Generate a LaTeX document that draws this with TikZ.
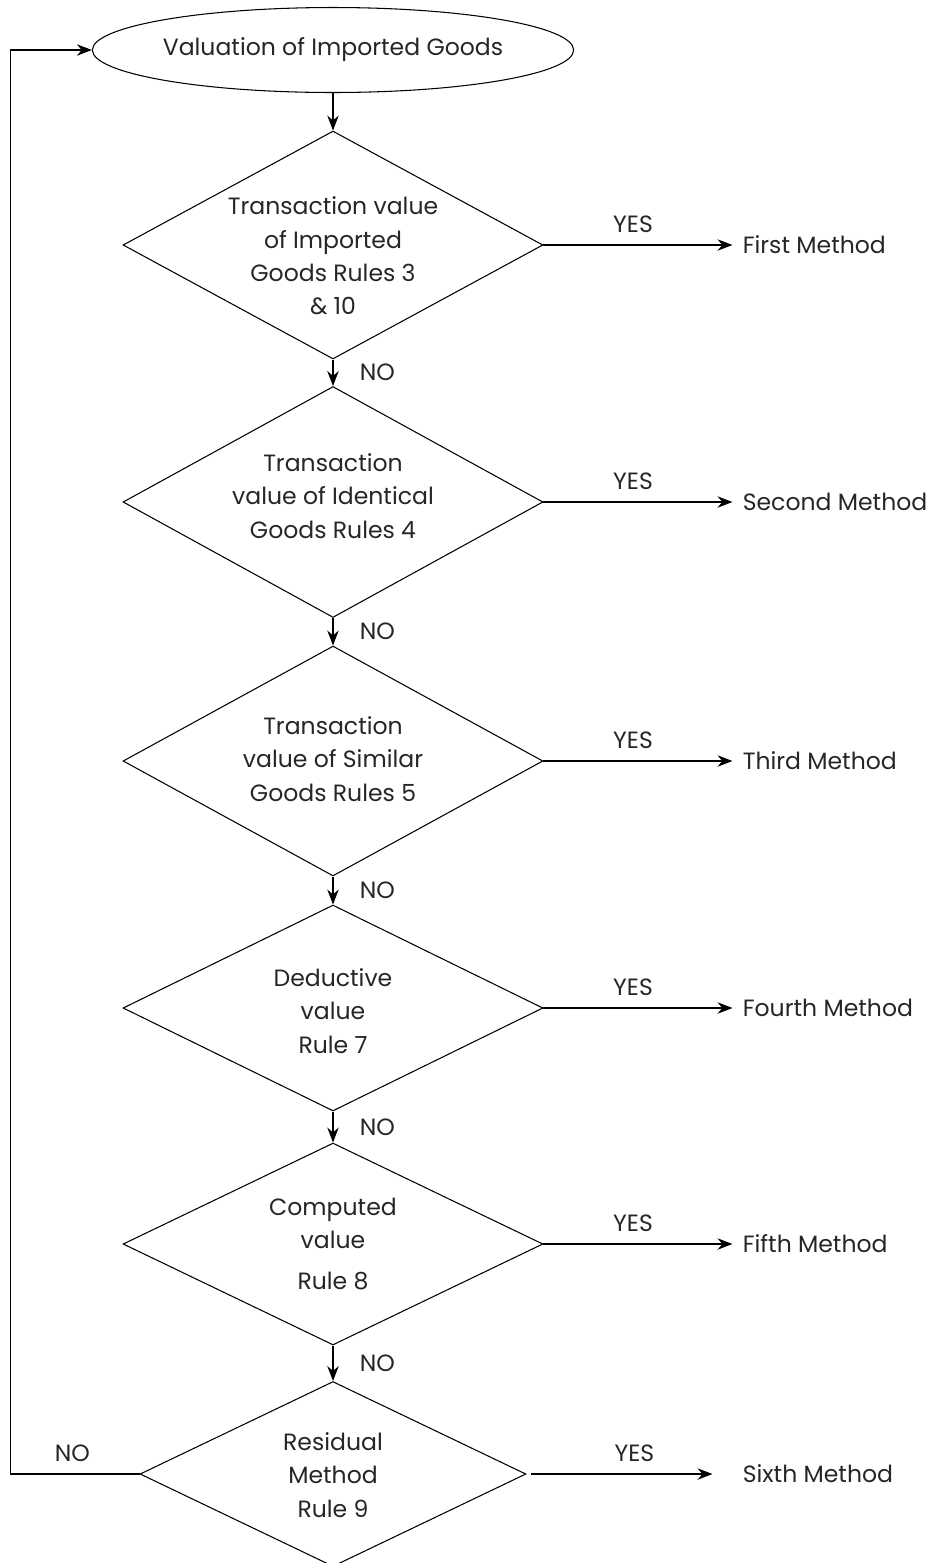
\documentclass[tikz,border=0pt]{standalone}
\usepackage{fontspec}
\setmainfont{Poppins}
\usetikzlibrary{arrows.meta, positioning, shapes}

\begin{document}
\begin{tikzpicture}[
    x=0.02cm, y=-0.02cm,
    font=\fontsize{13.4}{19}\selectfont,
    start/.style={ellipse, draw, line width=0.6pt, minimum width=9.3cm, minimum height=1.7cm, inner sep=0pt, text=black!85},
    decision/.style={diamond, draw, line width=0.6pt, inner sep=0pt, minimum width=8.4cm},
    dtext/.style={align=center, inner sep=0pt, text=black!85},
    method/.style={inner sep=0pt, text=black!85},
    lbl/.style={inner sep=0pt, text=black!85},
    arrow/.style={-{Stealth[length=8.5pt, width=6.5pt]}, line width=0.6pt}]
    \useasboundingbox (0,0) rectangle (938,1563);

    % Start
    \node[start] (start) at (333,50) {Valuation of Imported Goods};

    % Decision chain
    \node[decision, minimum height=4.56cm] (d1) at (333,245) {};
    \node[decision, minimum height=4.62cm] (d2) at (333,502) {};
    \node[decision, minimum height=4.6cm] (d3) at (333,761) {};
    \node[decision, minimum height=4.12cm] (d4) at (333,1008) {};
    \node[decision, minimum height=4.04cm] (d5) at (333,1244) {};
    \node[decision, minimum width=7.72cm, minimum height=3.7cm] (d6) at (333,1474) {};

    \node[dtext] (t1) at (333,256) {Transaction value\\of Imported\\Goods Rules 3\\\& 10};
    \node[dtext] (t2) at (333,496) {Transaction\\value of Identical\\Goods Rules 4};
    \node[dtext] (t3) at (333,759) {Transaction\\value of Similar\\Goods Rules 5};
    \node[dtext] (t4) at (333,1011) {Deductive\\value\\Rule 7};
    \node[dtext] (t5) at (333,1244) {Computed\\value\\[4pt]Rule 8};
    \node[dtext] (t6) at (333,1475) {Residual\\Method\\Rule 9};

    \draw[arrow] (start.south) -- (d1.north);
    \draw[arrow] (d1.south) -- (d2.north) node[midway, right=15pt, lbl] {NO};
    \draw[arrow] (d2.south) -- (d3.north) node[midway, right=15pt, lbl] {NO};
    \draw[arrow] (d3.south) -- (d4.north) node[midway, right=15pt, lbl] {NO};
    \draw[arrow] (d4.south) -- (d5.north) node[midway, right=15pt, lbl] {NO};
    \draw[arrow] (d5.south) -- (d6.north) node[midway, right=15pt, lbl] {NO};

    % Methods
    \node[method, right=3.98cm of d1] (m1) {First Method};
    \node[method, right=3.98cm of d2] (m2) {Second Method};
    \node[method, right=3.98cm of d3] (m3) {Third Method};
    \node[method, right=3.98cm of d4] (m4) {Fourth Method};
    \node[method, right=3.98cm of d5] (m5) {Fifth Method};
    \node[method, right=4.32cm of d6] (m6) {Sixth Method};

    \draw[arrow, shorten >=0.2cm] (d1.east) -- (m1.west) node[pos=0.45, above=7pt, lbl] {YES};
    \draw[arrow, shorten >=0.2cm] (d2.east) -- (m2.west) node[pos=0.45, above=7pt, lbl] {YES};
    \draw[arrow, shorten >=0.2cm] (d3.east) -- (m3.west) node[pos=0.45, above=7pt, lbl] {YES};
    \draw[arrow, shorten >=0.2cm] (d4.east) -- (m4.west) node[pos=0.45, above=7pt, lbl] {YES};
    \draw[arrow, shorten >=0.2cm] (d5.east) -- (m5.west) node[pos=0.45, above=7pt, lbl] {YES};
    \draw[arrow, shorten <=0.1cm, shorten >=0.6cm] (d6.east) -- (m6.west) node[pos=0.5, above=7pt, lbl] {YES};

    % Loop back
    \draw[arrow] (d6.west) -- ++(-129,0) node[pos=0.52, above=7pt, lbl] {NO} |- (start.west);
\end{tikzpicture}
\end{document}
